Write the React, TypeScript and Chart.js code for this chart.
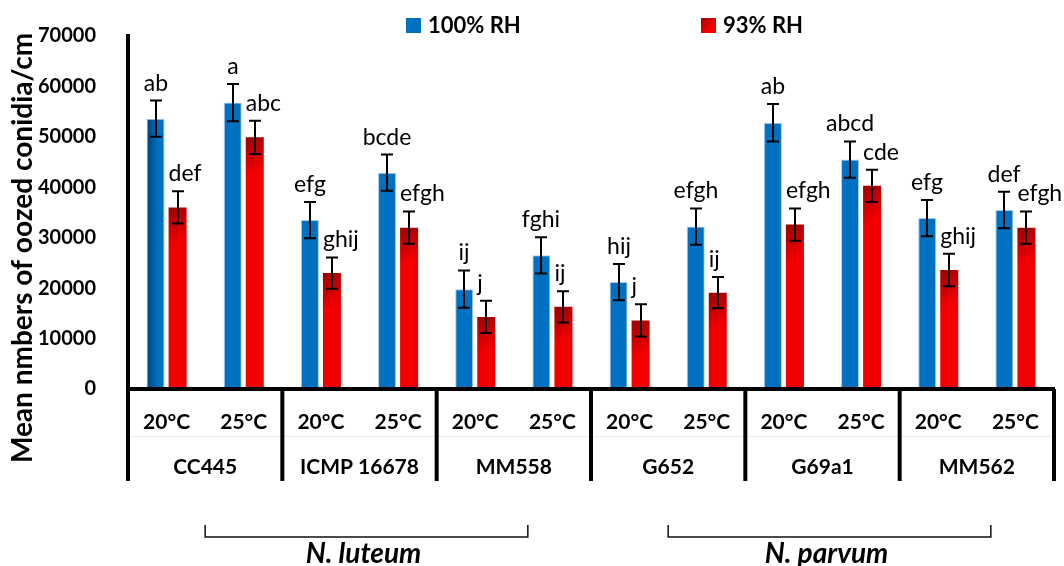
import { useEffect, useRef } from "react";
import { Chart, registerables } from "chart.js";

Chart.register(...registerables);

// Isolates (strains) and incubation temperatures
const strains = ["CC445", "ICMP 16678", "MM558", "G652", "G69a1", "MM562"];
const temps = ["20°C", "25°C"];
const categories = strains.flatMap((s) => temps.map((t) => `${s} ${t}`));

// Mean numbers of oozed conidia per cm, with standard errors
const rh100 = [53600, 56800, 33500, 42900, 19800, 26500, 21200, 32200, 52800, 45500, 33900, 35500];
const rh100Err = [3600, 3700, 3600, 3600, 3700, 3600, 3600, 3600, 3700, 3600, 3600, 3600];
const rh93 = [36000, 49900, 23000, 32000, 14300, 16300, 13600, 19100, 32600, 40300, 23600, 32000];
const rh93Err = [3200, 3300, 3100, 3200, 3200, 3100, 3200, 3100, 3200, 3200, 3200, 3200];

// Significance groupings
const rh100Letters = ["ab", "a", "efg", "bcde", "ij", "fghi", "hij", "efgh", "ab", "abcd", "efg", "def"];
const rh93Letters = ["def", "abc", "ghij", "efgh", "j", "ij", "j", "ij", "efgh", "cde", "ghij", "efgh"];

const seriesNames = ["100% RH", "93% RH"];
const yTitle = "Mean nmbers of oozed conidia/cm";
const yMax = 70000;
const yStep = 10000;

// Species brackets spanning strain indices
const speciesNames = ["N. luteum", "N. parvum"];
const speciesFirst = [0, 3];
const speciesLast = [2, 5];

const CAT_PCT = 0.571;
const BAR_PCT = 0.818;
const FONT = "Lato, 'Open Sans', sans-serif";
const BLUE = "#0070c0";

function barBox(chart: any, dsIndex: number, i: number, value: number) {
  const xs = chart.scales.x;
  const ys = chart.scales.y;
  const cx = xs.getPixelForValue(i);
  const catW = xs.width / categories.length;
  const slot = (catW * CAT_PCT) / 2;
  const w = slot * BAR_PCT;
  const left = cx + (dsIndex === 0 ? -slot : 0) + (slot - w) / 2;
  const top = ys.getPixelForValue(value);
  return { left, top, w };
}

function redFill(c: any) {
  const chart = c.chart;
  if (c.type !== "data" || !chart.chartArea || !chart.scales.x) return "#f00000";
  const { left, top, w } = barBox(chart, c.datasetIndex, c.dataIndex, rh93[c.dataIndex]);
  const g = chart.ctx.createLinearGradient(left, top, left + w, top + 28);
  g.addColorStop(0, "#9a0000");
  g.addColorStop(1, "#f20000");
  return g;
}

function blueFill(c: any) {
  const chart = c.chart;
  if (c.type !== "data" || !chart.chartArea || !chart.scales.x) return BLUE;
  if (c.dataIndex !== 0) return BLUE;
  const { left, w } = barBox(chart, c.datasetIndex, c.dataIndex, rh100[c.dataIndex]);
  const g = chart.ctx.createLinearGradient(left, 0, left + w, 0);
  g.addColorStop(0, "#003f73");
  g.addColorStop(0.6, BLUE);
  g.addColorStop(1, BLUE);
  return g;
}

const annotate = {
  id: "annotate",
  afterDatasetsDraw(chart: any) {
    const { ctx } = chart;
    const y = chart.scales.y;
    const vals = [rh100, rh93];
    const errs = [rh100Err, rh93Err];
    const letters = [rh100Letters, rh93Letters];
    ctx.save();
    ctx.strokeStyle = "#000";
    ctx.fillStyle = "#000";
    ctx.lineWidth = 2;
    ctx.font = `23px ${FONT}`;
    ctx.textBaseline = "alphabetic";
    for (let d = 0; d < 2; d++) {
      const meta = chart.getDatasetMeta(d);
      meta.data.forEach((el: any, i: number) => {
        const bx = Math.round(el.x);
        const yt = y.getPixelForValue(vals[d][i] + errs[d][i]);
        const yb = y.getPixelForValue(vals[d][i] - errs[d][i]);
        ctx.beginPath();
        ctx.moveTo(bx, yt);
        ctx.lineTo(bx, yb);
        ctx.moveTo(bx - 6, yt);
        ctx.lineTo(bx + 6, yt);
        ctx.moveTo(bx - 6, yb);
        ctx.lineTo(bx + 6, yb);
        ctx.stroke();
        if (d === 0) {
          ctx.textAlign = "center";
          ctx.fillText(letters[d][i], bx, yt - 10);
        } else {
          ctx.textAlign = "left";
          ctx.fillText(letters[d][i], el.x - el.width / 2, yt - 10);
        }
      });
    }
    ctx.restore();
  },
  afterDraw(chart: any) {
    const { ctx, chartArea } = chart;
    const x = chart.scales.x;
    const base = chartArea.bottom;
    const tableBottom = 481;
    const catW = (chartArea.right - chartArea.left) / categories.length;
    ctx.save();

    // faint rule between the temperature row and the strain row
    ctx.strokeStyle = "#ececec";
    ctx.lineWidth = 1;
    ctx.beginPath();
    ctx.moveTo(chartArea.left, 436.5);
    ctx.lineTo(chartArea.right, 436.5);
    ctx.stroke();

    // strain dividers below the axis
    ctx.strokeStyle = "#000";
    ctx.lineWidth = 4;
    for (let k = 0; k <= strains.length; k++) {
      const px = chartArea.left + k * 2 * catW;
      ctx.beginPath();
      ctx.moveTo(px, base);
      ctx.lineTo(px, tableBottom);
      ctx.stroke();
    }

    // temperature and strain labels
    ctx.fillStyle = "#000";
    ctx.textAlign = "center";
    ctx.textBaseline = "middle";
    ctx.font = `bold 21px ${FONT}`;
    categories.forEach((_, i) => {
      ctx.fillText(temps[i % 2], x.getPixelForValue(i), 422);
    });
    strains.forEach((s, k) => {
      ctx.fillText(s, chartArea.left + (k * 2 + 1) * catW, 467);
    });

    // species brackets
    ctx.strokeStyle = "#111";
    ctx.lineWidth = 1.5;
    speciesNames.forEach((name, n) => {
      const x0 = chartArea.left + (speciesFirst[n] * 2 + 1) * catW;
      const x1 = chartArea.left + (speciesLast[n] * 2 + 1) * catW + 14;
      const yLine = 537;
      ctx.beginPath();
      ctx.moveTo(x0, yLine - 12);
      ctx.lineTo(x0, yLine);
      ctx.lineTo(x1, yLine);
      ctx.lineTo(x1, yLine - 12);
      ctx.stroke();
      ctx.font = `italic bold 28px ${FONT}`;
      ctx.fillText(name, (x0 + x1) / 2 - 3, 554);
    });

    // legend
    const legendX = [406, 701];
    ctx.font = `bold 22px ${FONT}`;
    ctx.textAlign = "left";
    legendX.forEach((lx, d) => {
      if (d === 0) {
        ctx.fillStyle = BLUE;
      } else {
        const g = ctx.createLinearGradient(lx, 18, lx + 15, 33);
        g.addColorStop(0, "#9a0000");
        g.addColorStop(0.6, "#f20000");
        ctx.fillStyle = g;
      }
      ctx.fillRect(lx, 18, 15, 15);
      ctx.fillStyle = "#000";
      ctx.fillText(seriesNames[d], lx + 22, 26);
    });

    // y axis title
    ctx.translate(32, 248);
    ctx.rotate(-Math.PI / 2);
    ctx.textAlign = "center";
    ctx.textBaseline = "alphabetic";
    ctx.font = `bold 28px ${FONT}`;
    ctx.fillText(yTitle, 0, 0);
    ctx.restore();
  },
};

export default function App() {
  const ref = useRef<HTMLCanvasElement>(null);

  useEffect(() => {
    if (!ref.current) return;
    Chart.defaults.font.family = FONT;
    const chart = new Chart(ref.current, {
      type: "bar",
      data: {
        labels: categories,
        datasets: [
          {
            label: seriesNames[0],
            data: rh100,
            backgroundColor: blueFill as any,
            borderColor: "#a9cbe9",
            borderWidth: 1,
            categoryPercentage: CAT_PCT,
            barPercentage: BAR_PCT,
          },
          {
            label: seriesNames[1],
            data: rh93,
            backgroundColor: redFill as any,
            borderWidth: 0,
            categoryPercentage: CAT_PCT,
            barPercentage: BAR_PCT,
          },
        ],
      },
      options: {
        animation: false,
        responsive: true,
        maintainAspectRatio: false,
        events: [],
        layout: { padding: { top: 33, right: 10, bottom: 177, left: 0 } },
        plugins: {
          legend: { display: false },
          title: { display: false },
          tooltip: { enabled: false },
        },
        scales: {
          x: {
            ticks: { display: false },
            grid: { display: false },
            border: { display: true, color: "#000", width: 4, z: 1 },
            afterFit: (s: any) => {
              s.height = 0;
            },
          },
          y: {
            min: 0,
            max: yMax,
            ticks: {
              stepSize: yStep,
              padding: 24,
              color: "#000",
              font: { family: FONT, size: 20, weight: "bold" },
              callback: (v: any) => String(v),
            },
            grid: { display: false },
            border: { display: true, color: "#000", width: 4, z: 1 },
            afterFit: (s: any) => {
              s.width = 128;
            },
          },
        },
      },
      plugins: [annotate],
    });
    return () => chart.destroy();
  }, []);

  return (
    <div style={{ position: "fixed", left: 0, top: 0, width: 1064, height: 566, background: "#fff" }}>
      <canvas ref={ref} />
    </div>
  );
}
